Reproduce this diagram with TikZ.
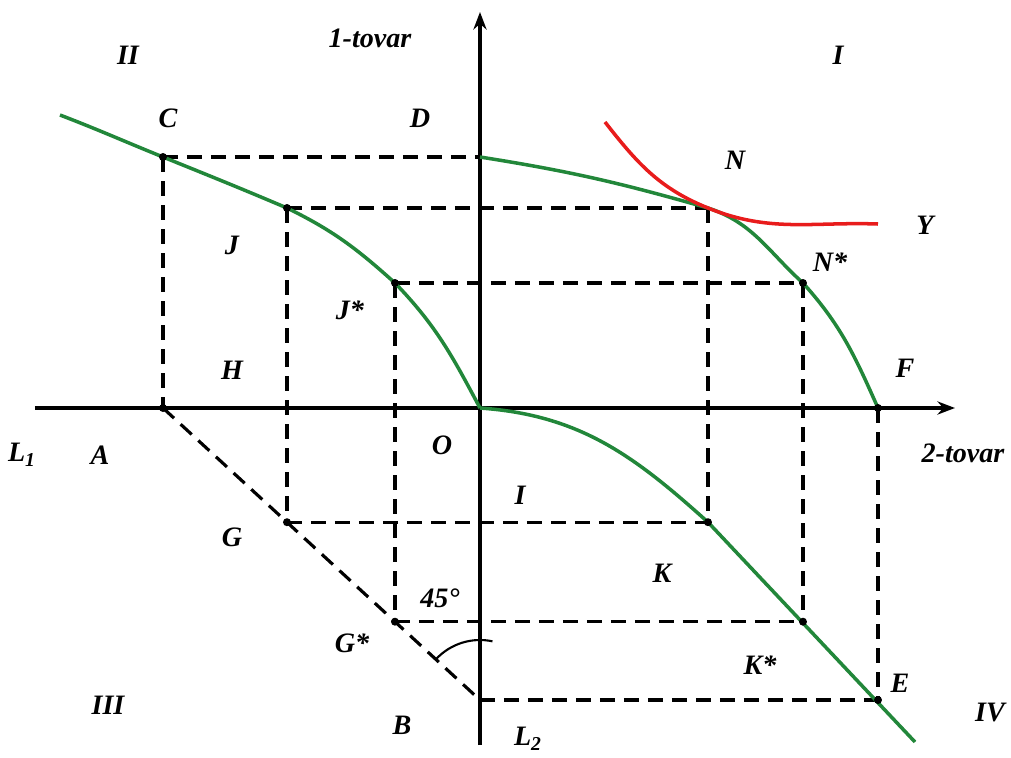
\documentclass[tikz,border=0pt]{standalone}
\usepackage{fontspec}
\setmainfont{Liberation Serif}
\usepackage{xcolor}
\usetikzlibrary{arrows.meta}
\definecolor{ppfgreen}{RGB}{34,135,58}
\definecolor{indred}{RGB}{232,28,28}

\begin{document}
\begin{tikzpicture}[
    lbl/.style={font=\fontsize{16}{19}\selectfont\bfseries\itshape},
    axis/.style={line width=1.8pt},
    guide/.style={line width=1.8pt, dash pattern=on 0.3cm off 0.18cm},
    ppf/.style={ppfgreen, line width=2pt},
    pt/.style={circle, fill, inner sep=0pt, minimum size=0.16cm}]
  \useasboundingbox (-9.6,-6.98) rectangle (10.62,8.16);
  % points
  \coordinate (O) at (0,0);
  \coordinate (C) at (-6.34,5.02);
  \coordinate (D) at (0,5.02);
  \coordinate (J) at (-3.86,4.0);
  \coordinate (Js) at (-1.7,2.5);
  \coordinate (N) at (4.56,4.0);
  \coordinate (Ns) at (6.46,2.5);
  \coordinate (F) at (7.96,0);
  \coordinate (A) at (-6.34,0);
  \coordinate (B) at (0,-5.84);
  \coordinate (G) at (-3.86,-2.284);
  \coordinate (Gs) at (-1.7,-4.274);
  \coordinate (K) at (4.56,-2.284);
  \coordinate (Ks) at (6.46,-4.274);
  \coordinate (E) at (7.96,-5.84);
  \coordinate (ppfstart) at (-8.4,5.86);
  \coordinate (mapend) at (8.7,-6.68);
  \coordinate (indstart) at (2.5,5.72);
  \coordinate (indend) at (7.96,3.68);
  % axes
  \draw[axis, -{Stealth[length=0.35cm]}] (-8.9,0) -- (9.5,0);
  \draw[axis, -{Stealth[length=0.35cm]}] (0,-6.74) -- (0,7.92);
  % dashed guides
  \draw[guide] (C) -- (D);
  \draw[guide] (C) -- (A);
  \draw[guide] (J) -- (N);
  \draw[guide] (J) -- (G);
  \draw[guide] (Js) -- (Ns);
  \draw[guide] (Js) -- (Gs);
  \draw[guide] (N) -- (K);
  \draw[guide] (Ns) -- (Ks);
  \draw[guide] (F) -- (E);
  \draw[guide] (G) -- (K);
  \draw[guide] (Gs) -- (Ks);
  \draw[guide] (B) -- (E);
  \draw[guide] (A) -- (B);
  % curves
  \draw[ppf] (ppfstart) to[out=-21,in=158] (C) to[out=-22,in=157] (J)
    to[out=-26,in=138] (Js) to[out=-46,in=118] (O);
  \draw[ppf] (D) to[out=-9,in=164] (N) to[out=-18,in=138] (Ns)
    to[out=-48,in=114] (F);
  \draw[ppf] (O) to[out=-4,in=138] (K) -- (mapend);
  \draw[indred, line width=2pt] (indstart) to[out=-52,in=158] (N)
    to[out=-22,in=178] (indend);
  \draw[line width=1.2pt] (B) ++(137:1.2) arc (137:78:1.2);
  % dots
  \foreach \p in {C,J,Js,Ns,A,F,G,Gs,K,Ks,E}
    \node[pt] at (\p) {};
  % labels
  \node[lbl] (ltovar1) at (-2.2,7.4) {1-tovar};
  \node[lbl] (ltovar2) at (9.66,-0.9) {2-tovar};
  \node[lbl] (lII) at (-7.04,7.06) {II};
  \node[lbl] (lI) at (7.16,7.06) {I};
  \node[lbl] (lIb) at (0.8,-1.74) {I};
  \node[lbl] (lIII) at (-7.44,-5.94) {III};
  \node[lbl] (lIV) at (10.2,-6.1) {IV};
  \node[lbl] (lC) at (-6.24,5.8) {C};
  \node[lbl] (lD) at (-1.2,5.8) {D};
  \node[lbl] (lN) at (5.1,4.96) {N};
  \node[lbl] (lY) at (8.9,3.66) {Y};
  \node[lbl] (lNs) at (7.0,2.92) {N*};
  \node[lbl] (lF) at (8.5,0.8) {F};
  \node[lbl] (lJ) at (-4.96,3.26) {J};
  \node[lbl] (lJs) at (-2.6,1.96) {J*};
  \node[lbl] (lH) at (-4.96,0.76) {H};
  \node[lbl] (lL1) at (-9.16,-0.94) {L\textsubscript{1}};
  \node[lbl] (lA) at (-7.6,-0.94) {A};
  \node[lbl] (lO) at (-0.76,-0.74) {O};
  \node[lbl] (lG) at (-4.96,-2.58) {G};
  \node[lbl] (lK) at (3.64,-3.3) {K};
  \node[lbl] (langle) at (-0.8,-3.8) {45°};
  \node[lbl] (lGs) at (-2.56,-4.7) {G*};
  \node[lbl] (lKs) at (5.6,-5.14) {K*};
  \node[lbl] (lE) at (8.4,-5.5) {E};
  \node[lbl] (lB) at (-1.56,-6.34) {B};
  \node[lbl] (lL2) at (0.96,-6.62) {L\textsubscript{2}};
\end{tikzpicture}
\end{document}
